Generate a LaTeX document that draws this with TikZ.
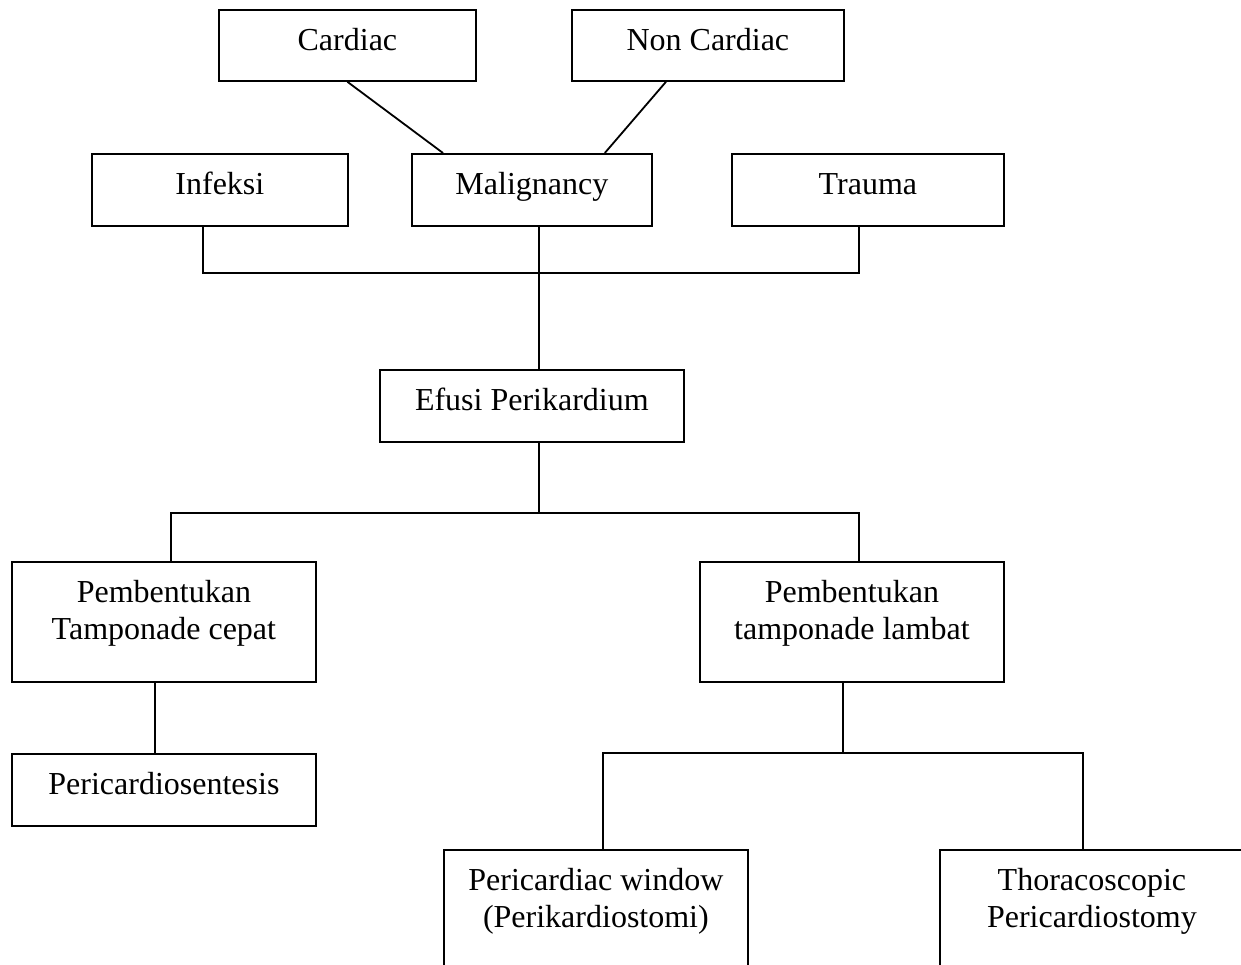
\documentclass[tikz,border=0pt]{standalone}
\usepackage{fontspec}
\setmainfont{Liberation Serif}
\usetikzlibrary{calc}
\newcommand{\boxtext}[3]{\parbox[c][#2][t]{#1}{\centering\rule{0pt}{41pt}#3\par}}
\tikzset{
  bx/.style={draw, line width=1.8pt, inner sep=0pt, anchor=north west,
             font=\fontsize{32}{37}\selectfont},
  ln/.style={line width=1.8pt}
}
\begin{document}
\begin{tikzpicture}[x=1pt,y=-1pt]
\clip (0,0) rectangle (1241,965);
\fill[white] (0,0) rectangle (1241,965);
% boxes
\node[bx] (cardiac) at (218,9) {\boxtext{257pt}{71pt}{Cardiac}};
\node[bx] (noncard) at (571,9) {\boxtext{272pt}{71pt}{Non Cardiac}};
\node[bx] (infeksi) at (91,153) {\boxtext{256pt}{72pt}{Infeksi}};
\node[bx] (malig) at (411,153) {\boxtext{240pt}{72pt}{Malignancy}};
\node[bx] (trauma) at (731,153) {\boxtext{272pt}{72pt}{Trauma}};
\node[bx] (efusi) at (379,369) {\boxtext{304pt}{72pt}{Efusi Perikardium}};
\node[bx] (cepat) at (11,561) {\boxtext{304pt}{120pt}{Pembentukan\\Tamponade cepat}};
\node[bx] (lambat) at (699,561) {\boxtext{304pt}{120pt}{Pembentukan\\tamponade lambat}};
\node[bx] (sentesis) at (11,753) {\boxtext{304pt}{72pt}{Pericardiosentesis}};
\node[bx] (window) at (443,849) {\boxtext{304pt}{140pt}{Pericardiac window\\(Perikardiostomi)}};
\node[bx] (thoraco) at (939,849) {\boxtext{304pt}{140pt}{Thoracoscopic\\Pericardiostomy}};
% connector points
\coordinate (cardA) at (cardiac.south);
\coordinate (malT1) at ($(malig.north west)+(32,0)$);
\coordinate (nonA) at ($(noncard.south west)+(95,0)$);
\coordinate (malT2) at ($(malig.north east)+(-48,0)$);
\coordinate (infA) at ($(infeksi.south west)+(112,0)$);
\coordinate (traA) at ($(trauma.south west)+(128,0)$);
\coordinate (malA) at ($(malig.south west)+(128,0)$);
\coordinate (bus1) at (539,273);
\coordinate (efT) at ($(efusi.north west)+(160,0)$);
\coordinate (efA) at ($(efusi.south west)+(160,0)$);
\coordinate (bus2) at (539,513);
\coordinate (cepA) at ($(cepat.north west)+(160,0)$);
\coordinate (lamA) at ($(lambat.north west)+(160,0)$);
\coordinate (cepB) at ($(cepat.south west)+(144,0)$);
\coordinate (senA) at ($(sentesis.north west)+(144,0)$);
\coordinate (lamB) at ($(lambat.south west)+(144,0)$);
\coordinate (bus3) at (843,753);
\coordinate (winA) at ($(window.north west)+(160,0)$);
\coordinate (thoA) at ($(thoraco.north west)+(144,0)$);
% connectors
\draw[ln] (cardA) -- (malT1);
\draw[ln] (nonA) -- (malT2);
\draw[ln] (infA) |- (bus1) -| (traA);
\draw[ln] (malA) -- (efT);
\draw[ln] (efA) -- (bus2);
\draw[ln] (cepA) |- (bus2) -| (lamA);
\draw[ln] (cepB) -- (senA);
\draw[ln] (lamB) -- (bus3);
\draw[ln] (winA) |- (bus3) -| (thoA);
\end{tikzpicture}
\end{document}
